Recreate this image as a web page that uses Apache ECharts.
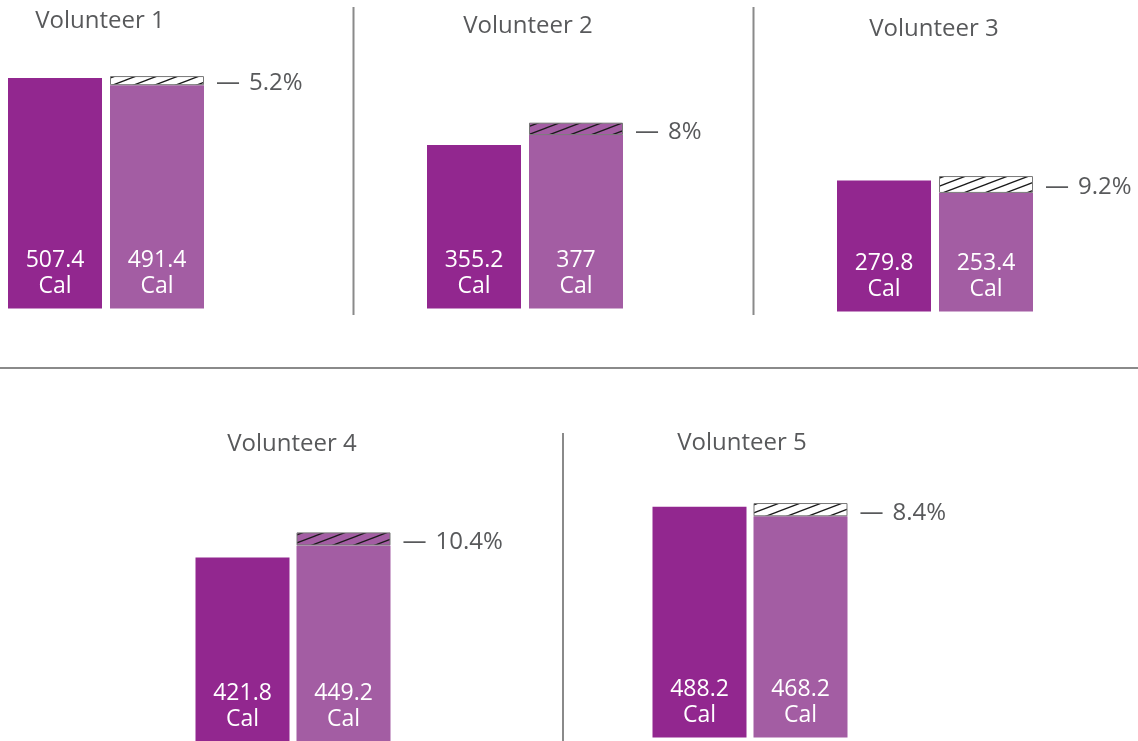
<!DOCTYPE html>
<html>
<head>
<meta charset="utf-8">
<script src="https://cdn.jsdelivr.net/npm/echarts@6/dist/echarts.min.js"></script>
<style>
html,body{margin:0;padding:0;background:#fff;}
#chart{width:1138px;height:741px;}
</style>
</head>
<body>
<div id="chart"></div>
<script>
// ---- data ----
const volunteers = ['Volunteer 1', 'Volunteer 2', 'Volunteer 3', 'Volunteer 4', 'Volunteer 5'];
const barCategories = ['Measured', 'Estimated'];
const measuredCal = [507.4, 355.2, 279.8, 421.8, 488.2];
const estimatedCal = [491.4, 377, 253.4, 449.2, 468.2];
const errorPct = [5.2, 8, 9.2, 10.4, 8.4];
const hatchCal = [20, 27, 36, 30, 28];   // height of the hatched band

// ---- layout (pixels) ----
const panels = [
  {left: 4,   width: 204, base: 308.5, scale: 0.4545, tx: 100, ty: 21},
  {left: 423, width: 204, base: 308.5, scale: 0.46,   tx: 528, ty: 26.5},
  {left: 833, width: 204, base: 311.5, scale: 0.468,  tx: 934, ty: 29.5},
  {left: 192, width: 202, base: 745,   scale: 0.442,  tx: 292, ty: 444.5},
  {left: 649, width: 202, base: 737.5, scale: 0.4725, tx: 742, ty: 443.5}
];
const AXIS_MAX = 600;
const DARK = '#92278f';
const LIGHT = '#a35da3';
const GREY = '#58595b';
const FONT = '"Open Sans", "Noto Sans", sans-serif';

function hatchPattern(bg) {
  const W = 21, H = 8;
  const c = document.createElement('canvas');
  c.width = W; c.height = H;
  const ctx = c.getContext('2d');
  ctx.fillStyle = bg; ctx.fillRect(0, 0, W, H);
  ctx.strokeStyle = '#1a1a1a'; ctx.lineWidth = 1.3;
  for (let k = -1; k <= 1; k++) {
    ctx.beginPath();
    ctx.moveTo(-W, 2 * H + k * H);
    ctx.lineTo(2 * W, -H + k * H);
    ctx.stroke();
  }
  return {image: c, repeat: 'repeat'};
}
const hatchWhite = hatchPattern('#ffffff');
const hatchPurple = hatchPattern(LIGHT);

const grids = [], xAxes = [], yAxes = [], series = [], graphics = [];
panels.forEach((p, i) => {
  const h = AXIS_MAX * p.scale;
  grids.push({left: p.left, width: p.width, top: p.base - h, height: h, containLabel: false});
  xAxes.push({type: 'category', gridIndex: i, data: barCategories, show: false});
  yAxes.push({type: 'value', gridIndex: i, min: 0, max: AXIS_MAX, show: false});
  const over = estimatedCal[i] > measuredCal[i];
  series.push({
    type: 'bar', xAxisIndex: i, yAxisIndex: i, stack: 's' + i, barWidth: 94,
    data: [
      {value: measuredCal[i], itemStyle: {color: DARK}},
      {value: estimatedCal[i], itemStyle: {color: LIGHT}}
    ],
    label: {
      show: true, position: 'insideBottom', distance: 9,
      formatter: (d) => d.value + '\nCal',
      color: '#fff', fontSize: 23, lineHeight: 26, fontFamily: FONT
    }
  });
  series.push({
    type: 'bar', xAxisIndex: i, yAxisIndex: i, stack: 's' + i, barWidth: 94,
    data: ['-', hatchCal[i]],
    itemStyle: {color: over ? hatchPurple : hatchWhite, borderColor: '#777', borderWidth: 1},
    label: {
      show: true, position: 'right', distance: 12, offset: [0, 3],
      formatter: () => '{d|\u2014}{t|' + errorPct[i] + '%}',
      rich: {
        d: {color: GREY, fontSize: 24, fontFamily: FONT},
        t: {color: GREY, fontSize: 24, fontFamily: FONT, padding: [0, 0, 0, 9]}
      }
    }
  });
  graphics.push({
    type: 'text', x: p.tx, y: p.ty,
    style: {text: volunteers[i], fill: GREY, font: '24px ' + FONT, textAlign: 'center', textVerticalAlign: 'middle'}
  });
});

const lineStyle = {stroke: '#8a8a8a', lineWidth: 2};
graphics.push({type: 'line', shape: {x1: 353.5, y1: 7, x2: 353.5, y2: 315}, style: lineStyle});
graphics.push({type: 'line', shape: {x1: 753.5, y1: 7, x2: 753.5, y2: 315}, style: lineStyle});
graphics.push({type: 'line', shape: {x1: 0, y1: 368, x2: 1138, y2: 368}, style: lineStyle});
graphics.push({type: 'line', shape: {x1: 563, y1: 433, x2: 563, y2: 741}, style: lineStyle});

const chart = echarts.init(document.getElementById('chart'), null, {renderer: 'canvas'});
chart.setOption({
  animation: false,
  backgroundColor: '#fff',
  grid: grids,
  xAxis: xAxes,
  yAxis: yAxes,
  series: series,
  graphic: graphics
});
</script>
</body>
</html>
